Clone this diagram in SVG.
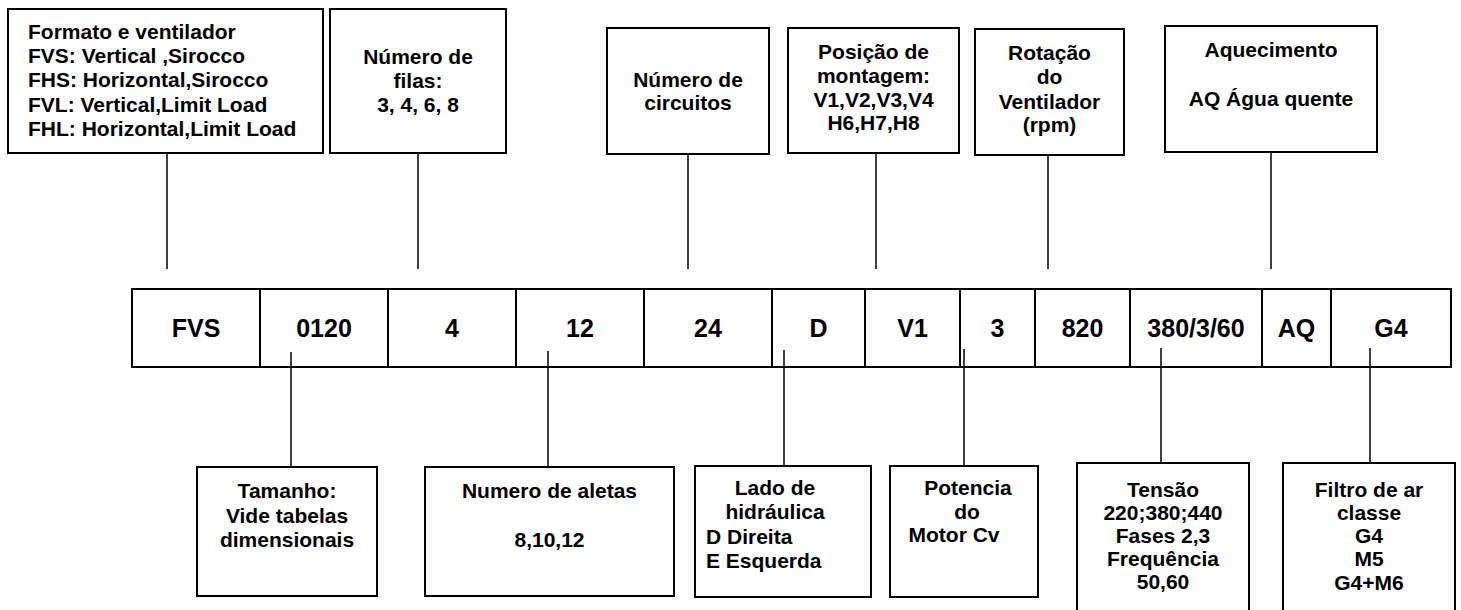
<svg xmlns="http://www.w3.org/2000/svg" width="1461" height="610" viewBox="0 0 1461 610">
<style>
.b{fill:#fff;stroke:#000;stroke-width:2}
.c{stroke:#000;stroke-width:1.5;fill:none}
text{font-family:"Liberation Sans",Arial,sans-serif;font-weight:bold;font-size:21px;fill:#000}
.m{text-anchor:middle}
.r text{font-size:25px;text-anchor:middle}
</style>
<rect width="1461" height="610" fill="#fff"/>
<g id="connectors">
<line class="c" x1="167" y1="153" x2="167" y2="269"/>
<line class="c" x1="418" y1="153" x2="418" y2="269"/>
<line class="c" x1="688" y1="154" x2="688" y2="269"/>
<line class="c" x1="876" y1="153" x2="876" y2="269"/>
<line class="c" x1="1048" y1="155" x2="1048" y2="269"/>
<line class="c" x1="1271" y1="134" x2="1271" y2="269"/>
</g>
<g id="top1"><rect class="b" x="8" y="9" width="315" height="144"/>
<text x="28" y="39">Formato e ventilador</text>
<text x="28" y="63">FVS: Vertical ,Sirocco</text>
<text x="28" y="87">FHS: Horizontal,Sirocco</text>
<text x="28" y="112">FVL: Vertical,Limit Load</text>
<text x="28" y="136">FHL: Horizontal,Limit Load</text></g>
<g id="top2"><rect class="b" x="330" y="9" width="176" height="144"/>
<text class="m" x="418" y="64">Número de</text>
<text class="m" x="418" y="88">filas:</text>
<text class="m" x="418" y="112">3, 4, 6, 8</text></g>
<g id="top3"><rect class="b" x="607" y="28" width="162" height="126"/>
<text class="m" x="688" y="87">Número de</text>
<text class="m" x="688" y="110">circuitos</text></g>
<g id="top4"><rect class="b" x="788" y="28" width="171" height="125"/>
<text class="m" x="873.5" y="59">Posição de</text>
<text class="m" x="873.5" y="83">montagem:</text>
<text class="m" x="873.5" y="107">V1,V2,V3,V4</text>
<text class="m" x="873.5" y="130">H6,H7,H8</text></g>
<g id="top5"><rect class="b" x="975" y="29" width="149" height="126"/>
<text class="m" x="1049.5" y="60">Rotação</text>
<text class="m" x="1049.5" y="84">do</text>
<text class="m" x="1049.5" y="109">Ventilador</text>
<text class="m" x="1049.5" y="132">(rpm)</text></g>
<g id="top6"><rect class="b" x="1165" y="26" width="212" height="126"/>
<text class="m" x="1271" y="57">Aquecimento</text>
<text class="m" x="1271" y="106">AQ Água quente</text></g>
<g id="code" class="r">
<rect class="b" x="132" y="289" width="1319" height="78"/>
<path class="c" style="stroke-width:2" d="M260 289V367M388 289V367M516 289V367M644 289V367M772 289V367M865 289V367M960 289V367M1035 289V367M1130 289V367M1262 289V367M1331 289V367"/>
<text x="196" y="337">FVS</text>
<text x="324" y="337">0120</text>
<text x="452" y="337">4</text>
<text x="580" y="337">12</text>
<text x="708" y="337">24</text>
<text x="818.5" y="337">D</text>
<text x="912.5" y="337">V1</text>
<text x="997.5" y="337">3</text>
<text x="1082.5" y="337">820</text>
<text x="1196" y="337">380/3/60</text>
<text x="1296.5" y="337">AQ</text>
<text x="1391" y="337">G4</text>
</g>
<g id="connectors-bottom">
<line class="c" x1="291" y1="352" x2="291" y2="467"/>
<line class="c" x1="548" y1="351" x2="548" y2="467"/>
<line class="c" x1="784" y1="350" x2="784" y2="466"/>
<line class="c" x1="964" y1="349" x2="964" y2="466"/>
<line class="c" x1="1161" y1="348" x2="1161" y2="463"/>
<line class="c" x1="1370" y1="348" x2="1370" y2="463"/>
</g>
<g id="bot1"><rect class="b" x="197" y="467" width="180" height="129"/>
<text class="m" x="287" y="498">Tamanho:</text>
<text class="m" x="287" y="523">Vide tabelas</text>
<text class="m" x="287" y="547">dimensionais</text></g>
<g id="bot2"><rect class="b" x="425" y="467" width="249" height="129"/>
<text class="m" x="549.5" y="498">Numero de aletas</text>
<text class="m" x="549.5" y="547">8,10,12</text></g>
<g id="bot3"><rect class="b" x="695" y="466" width="176" height="131"/>
<text class="m" x="775" y="495">Lado de</text>
<text class="m" x="775" y="519">hidráulica</text>
<text x="706" y="544">D Direita</text>
<text x="706" y="568">E Esquerda</text></g>
<g id="bot4"><rect class="b" x="890" y="466" width="148" height="131"/>
<text class="m" x="968" y="495">Potencia</text>
<text class="m" x="967" y="519">do</text>
<text class="m" x="954" y="542">Motor Cv</text></g>
<g id="bot5"><rect class="b" x="1077" y="463" width="172" height="152"/>
<text class="m" x="1163" y="497">Tensão</text>
<text class="m" x="1163" y="520">220;380;440</text>
<text class="m" x="1163" y="543">Fases 2,3</text>
<text class="m" x="1163" y="566">Frequência</text>
<text class="m" x="1163" y="589">50,60</text></g>
<g id="bot6"><rect class="b" x="1283" y="463" width="172" height="152"/>
<text class="m" x="1369" y="497">Filtro de ar</text>
<text class="m" x="1369" y="520">classe</text>
<text class="m" x="1369" y="543">G4</text>
<text class="m" x="1369" y="566">M5</text>
<text class="m" x="1369" y="590">G4+M6</text></g>
</svg>
